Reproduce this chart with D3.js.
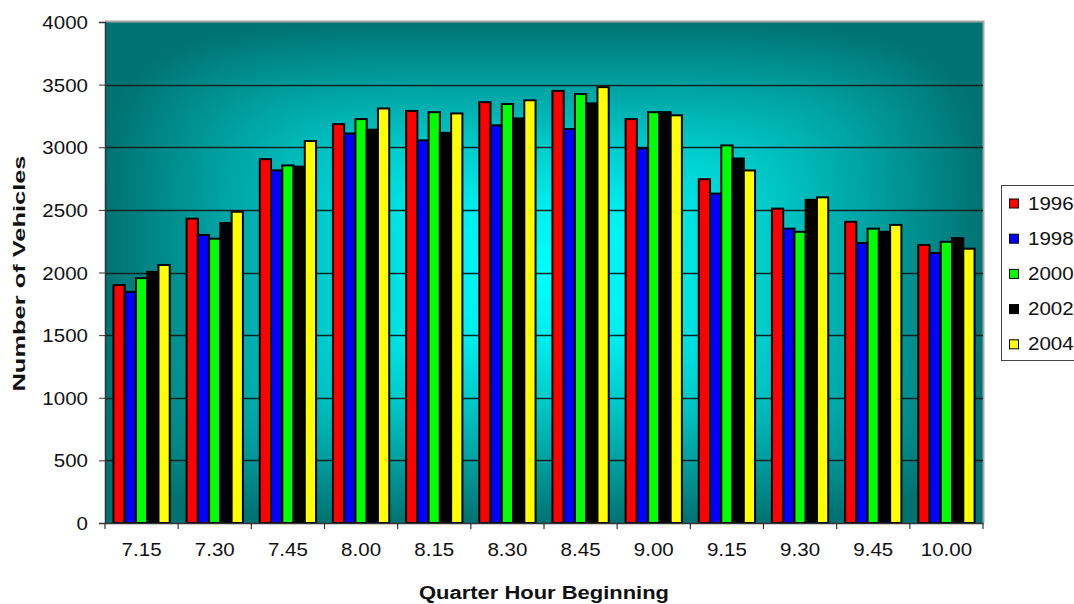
<!DOCTYPE html>
<html>
<head>
<meta charset="utf-8">
<script src="https://cdn.jsdelivr.net/npm/d3@7/dist/d3.min.js"></script>
<style>
  html, body { margin: 0; padding: 0; background: #ffffff; }
  svg { display: block; font-family: Arial, "Liberation Sans", sans-serif; }
</style>
</head>
<body>
<svg id="chart" width="1074" height="604"></svg>
<script>
// Quarter-hour traffic counts by survey year
const categories = ["7.15", "7.30", "7.45", "8.00", "8.15", "8.30", "8.45", "9.00", "9.15", "9.30", "9.45", "10.00"];
const seriesNames = ["1996", "1998", "2000", "2002", "2004"];
const v1996 = [1900, 2430, 2905, 3185, 3290, 3360, 3450, 3225, 2745, 2510, 2405, 2220];
const v1998 = [1845, 2300, 2815, 3110, 3055, 3175, 3145, 2990, 2630, 2350, 2235, 2155];
const v2000 = [1955, 2270, 2855, 3225, 3280, 3345, 3425, 3280, 3015, 2325, 2350, 2245];
const v2002 = [2005, 2395, 2845, 3140, 3115, 3230, 3350, 3280, 2910, 2580, 2325, 2275];
const v2004 = [2060, 2485, 3050, 3310, 3270, 3375, 3480, 3255, 2815, 2600, 2380, 2190];
const yTicks = [0, 500, 1000, 1500, 2000, 2500, 3000, 3500, 4000];
const seriesColors = ["#ff0000", "#0000ff", "#00ff00", "#000000", "#ffff00"];

const seriesValues = [v1996, v1998, v2000, v2002, v2004];
const rows = categories.map((c, i) => ({
  cat: c,
  vals: seriesNames.map((s, k) => ({ series: s, value: seriesValues[k][i] }))
}));

const svg = d3.select("#chart");
const plot = { left: 105, right: 983, top: 22, bottom: 523 };
const TX = 1.14; // horizontal stretch applied to text

const x = d3.scaleBand().domain(categories).range([plot.left, plot.right]).paddingInner(0).paddingOuter(0);
const xSub = d3.scaleBand().domain(seriesNames).range([0, x.bandwidth()]).paddingInner(0).paddingOuter(0.75);
const y = d3.scaleLinear().domain([0, 4000]).range([plot.bottom, plot.top]);
const color = d3.scaleOrdinal().domain(seriesNames).range(seriesColors);

// plot-area fill: rounded-rectangle gradient, cyan in the centre to dark teal at the edges
function plotFillURL(w, h) {
  const cv = document.createElement("canvas");
  cv.width = w; cv.height = h;
  const ctx = cv.getContext("2d");
  const img = ctx.createImageData(w, h);
  const shade = d3.scaleLinear()
    .domain([0, 0.25, 0.5, 0.75, 1])
    .range([255, 238, 204, 160, 114])
    .clamp(true);
  const hw = w / 2, hh = h / 2;
  for (let j = 0; j < h; j++) {
    for (let i = 0; i < w; i++) {
      const dx = Math.abs(i + 0.5 - hw) / hw;
      const dy = Math.abs(j + 0.5 - hh) / hh;
      const t = Math.pow(Math.pow(dx, 5) + Math.pow(dy, 5), 1 / 5);
      const g = Math.round(shade(t));
      const k = (j * w + i) * 4;
      img.data[k] = 0; img.data[k + 1] = g; img.data[k + 2] = g; img.data[k + 3] = 255;
    }
  }
  ctx.putImageData(img, 0, 0);
  return cv.toDataURL();
}
const pw = plot.right - plot.left, ph = plot.bottom - plot.top;
svg.append("image")
  .attr("x", plot.left).attr("y", plot.top)
  .attr("width", pw).attr("height", ph)
  .attr("preserveAspectRatio", "none")
  .attr("href", plotFillURL(pw, ph));

// plot-area border (top and right)
svg.append("path")
  .attr("d", `M${plot.left},${plot.top - 0.5}H${plot.right + 0.5}V${plot.bottom}`)
  .attr("fill", "none").attr("stroke", "#a6a6a6").attr("stroke-width", 2);

// gridlines
svg.append("g").selectAll("line")
  .data(yTicks.filter(t => t > 0 && t < 4000))
  .join("line")
  .attr("x1", plot.left).attr("x2", plot.right)
  .attr("y1", d => Math.round(y(d)) + 0.5).attr("y2", d => Math.round(y(d)) + 0.5)
  .attr("stroke", "#0a2424").attr("stroke-width", 1.3);

// bars
const groups = svg.append("g").selectAll("g")
  .data(rows).join("g")
  .attr("transform", d => `translate(${x(d.cat)},0)`);
groups.selectAll("rect")
  .data(d => d.vals).join("rect")
  .attr("x", d => xSub(d.series))
  .attr("width", xSub.bandwidth())
  .attr("y", d => y(d.value))
  .attr("height", d => y(0) - y(d.value))
  .attr("fill", d => color(d.series))
  .attr("stroke", "#000").attr("stroke-width", 2);

// y axis
const yAxis = svg.append("g").attr("transform", `translate(${plot.left},0)`)
  .call(d3.axisLeft(y).tickValues(yTicks).tickSize(6).tickFormat(d3.format("d")));
yAxis.select(".domain").attr("stroke", "#333").attr("stroke-width", 1.5);
yAxis.selectAll(".tick line").attr("stroke", "#333");
yAxis.selectAll(".tick text").remove();
yAxis.selectAll(".tick").append("text")
  .attr("transform", `translate(-17,6.5) scale(${TX},1)`)
  .attr("text-anchor", "end")
  .attr("fill", "#111").attr("font-size", 18)
  .text(d => d);

// x axis
const xAxis = svg.append("g").attr("transform", `translate(0,${plot.bottom})`)
  .call(d3.axisBottom(x).tickSize(0).tickSizeOuter(0));
xAxis.select(".domain").attr("stroke", "#333").attr("stroke-width", 1.5);
xAxis.selectAll(".tick text").remove();
xAxis.selectAll(".tick").append("text")
  .attr("transform", `translate(0,33) scale(${TX},1)`)
  .attr("text-anchor", "middle")
  .attr("fill", "#111").attr("font-size", 18)
  .text(d => d);
// tick marks on category boundaries
svg.append("g").selectAll("line")
  .data(categories.concat(["__end"]))
  .join("line")
  .attr("x1", d => d === "__end" ? plot.right : x(d))
  .attr("x2", d => d === "__end" ? plot.right : x(d))
  .attr("y1", plot.bottom).attr("y2", plot.bottom + 6)
  .attr("stroke", "#333").attr("stroke-width", 1.2);

// axis titles
svg.append("text")
  .attr("transform", `translate(25,${(plot.top + plot.bottom) / 2 + 1}) rotate(-90)`)
  .attr("text-anchor", "middle")
  .attr("font-size", 17).attr("font-weight", "bold").attr("fill", "#111")
  .attr("textLength", 236).attr("lengthAdjust", "spacingAndGlyphs")
  .text("Number of Vehicles");
svg.append("text")
  .attr("x", (plot.left + plot.right) / 2).attr("y", 599)
  .attr("text-anchor", "middle")
  .attr("font-size", 18).attr("font-weight", "bold").attr("fill", "#111")
  .attr("textLength", 250).attr("lengthAdjust", "spacingAndGlyphs")
  .text("Quarter Hour Beginning");

// legend
const legend = svg.append("g");
legend.append("rect")
  .attr("x", 1001.5).attr("y", 185.5).attr("width", 90).attr("height", 175)
  .attr("fill", "#fff").attr("stroke", "#444").attr("stroke-width", 1);
const li = legend.selectAll("g.item").data(seriesNames).join("g")
  .attr("class", "item")
  .attr("transform", (d, i) => `translate(0,${203.5 + i * 35.2})`);
li.append("rect")
  .attr("x", 1009.5).attr("y", -4.5).attr("width", 9).attr("height", 9)
  .attr("fill", d => color(d)).attr("stroke", "#000").attr("stroke-width", 1);
li.append("text")
  .attr("transform", `translate(1028,6) scale(${TX},1)`)
  .attr("font-size", 18).attr("fill", "#111")
  .text(d => d);
</script>
</body>
</html>
